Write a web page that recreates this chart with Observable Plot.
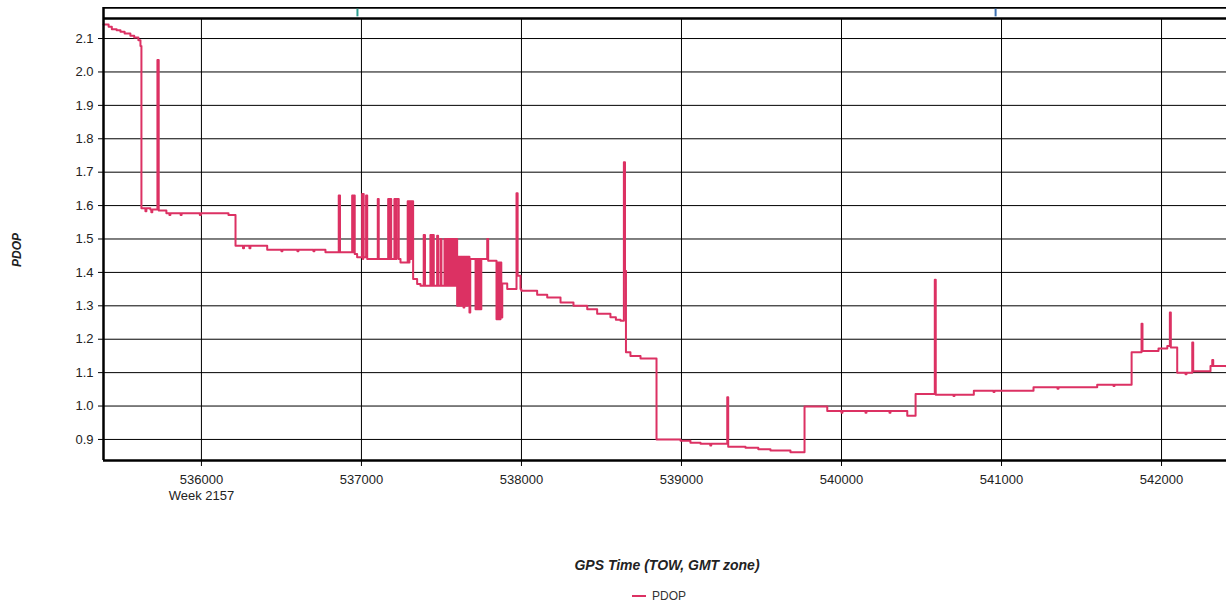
<!DOCTYPE html>
<html>
<head>
<meta charset="utf-8">
<script src="https://cdn.jsdelivr.net/npm/d3@7"></script>
<script src="https://cdn.jsdelivr.net/npm/@observablehq/plot@0.6"></script>
<style>
  html, body { margin: 0; padding: 0; background: #fff; }
  #wrap { position: relative; width: 1226px; height: 608px; overflow: hidden; background: #fff;
          font-family: "Liberation Sans", Arial, sans-serif; }
  #chart { position: absolute; left: 0; top: 0; }
  #strip { position: absolute; left: 0; top: 7px; }
  #ylab { position: absolute; left: 17px; top: 250px; transform: translate(-50%, -50%) rotate(-90deg);
          font-weight: bold; font-style: italic; font-size: 12px; color: #222; white-space: nowrap; }
  #xlab { position: absolute; left: 667px; top: 565px; transform: translate(-50%, -50%);
          font-weight: bold; font-style: italic; font-size: 14px; color: #222; white-space: nowrap; }
  #legend { position: absolute; left: 632px; top: 589px; font-size: 12px; color: #333; display: flex; align-items: center; }
  #legend .sw { width: 14px; height: 2px; background: #dc3163; margin-right: 6px; }
</style>
</head>
<body>
<div id="wrap">
  <div id="chart"></div>
  <div id="strip"></div>
  <div id="ylab">PDOP</div>
  <div id="xlab">GPS Time (TOW, GMT zone)</div>
  <div id="legend"><div class="sw"></div><span>PDOP</span></div>
</div>
<script>
// GPS time of week (s) and PDOP (step series)
const tow = [
  535388, 535420, 535440, 535470, 535494, 535520, 535556, 535580, 535606, 535619,
  535625, 535650, 535656, 535681, 535687, 535693, 535725, 535733, 535781, 535800,
  535806, 535870, 535876, 535990, 535996, 536169, 536213, 536260, 536266, 536300,
  536306, 536411, 536500, 536506, 536600, 536606, 536700, 536706, 536775, 536858,
  536866, 536942, 536947, 536952, 536958, 536973, 537004, 537009, 537011, 537014,
  537029, 537036, 537102, 537108, 537167, 537175, 537180, 537186, 537206, 537214,
  537220, 537233, 537244, 537289, 537296, 537300, 537308, 537312, 537323, 537348,
  537369, 537389, 537397, 537431, 537440, 537445, 537452, 537473, 537479, 537494,
  537500, 537519, 537525, 537536, 537541,
  537546, 537551, 537556, 537561, 537566, 537571, 537576, 537581, 537586, 537591, 537596,
  537598, 537603, 537608, 537613, 537618, 537623, 537628, 537633, 537638, 537643, 537648,
  537653, 537658, 537663, 537675, 537680,
  537713, 537718, 537723, 537728, 537733, 537738, 537744, 537749, 537786, 537792,
  537844, 537849, 537854, 537859, 537864, 537869, 537874, 537880, 537911, 537969,
  537976, 537994, 537999, 538098, 538161, 538244, 538325, 538411, 538473, 538556,
  538590, 538619, 538640, 538647, 538653, 538681, 538744, 538844, 538994, 539056,
  539119, 539180, 539186, 539286, 539292, 539400, 539480, 539556, 539681, 539769,
  539911, 540000, 540006, 540150, 540156, 540300, 540306, 540411, 540463, 540583,
  540589, 540700, 540706, 540827, 540950, 540956, 541200, 541350, 541356, 541598,
  541700, 541706, 541813, 541875, 541881, 541981, 542036, 542052, 542058, 542098,
  542150, 542156, 542192, 542198, 542306, 542317, 542323, 542406
];
const pdop = [
  2.142, 2.135, 2.128, 2.125, 2.120, 2.115, 2.108, 2.103, 2.095, 2.078,
  1.592, 1.583, 1.592, 1.588, 1.580, 1.588, 2.036, 1.585, 1.577, 1.572,
  1.577, 1.572, 1.577, 1.572, 1.577, 1.572, 1.480, 1.472, 1.480, 1.472,
  1.480, 1.468, 1.463, 1.468, 1.463, 1.468, 1.463, 1.468, 1.460, 1.630,
  1.460, 1.630, 1.460, 1.630, 1.455, 1.445, 1.635, 1.440, 1.635, 1.445,
  1.630, 1.440, 1.620, 1.440, 1.620, 1.440, 1.620, 1.440, 1.620, 1.440,
  1.620, 1.440, 1.430, 1.613, 1.430, 1.613, 1.440, 1.613, 1.380, 1.365,
  1.360, 1.512, 1.360, 1.512, 1.360, 1.512, 1.360, 1.510, 1.360, 1.500,
  1.360, 1.500, 1.360, 1.500, 1.360,
  1.500, 1.360, 1.500, 1.360, 1.500, 1.360, 1.500, 1.360, 1.500, 1.360, 1.500,
  1.300, 1.447, 1.300, 1.447, 1.300, 1.447, 1.300, 1.447, 1.295, 1.447, 1.300,
  1.447, 1.300, 1.447, 1.280, 1.440,
  1.290, 1.440, 1.290, 1.440, 1.290, 1.440, 1.290, 1.440, 1.500, 1.435,
  1.260, 1.430, 1.260, 1.430, 1.260, 1.430, 1.265, 1.367, 1.350, 1.637,
  1.390, 1.350, 1.345, 1.333, 1.325, 1.310, 1.300, 1.290, 1.276, 1.266,
  1.258, 1.255, 1.730, 1.405, 1.161, 1.150, 1.142, 0.900, 0.896, 0.890,
  0.887, 0.882, 0.887, 1.026, 0.878, 0.875, 0.871, 0.867, 0.862, 0.999,
  0.985, 0.980, 0.985, 0.980, 0.985, 0.980, 0.985, 0.971, 1.036, 1.378,
  1.034, 1.030, 1.034, 1.046, 1.042, 1.046, 1.056, 1.052, 1.056, 1.064,
  1.060, 1.064, 1.161, 1.246, 1.165, 1.172, 1.180, 1.280, 1.175, 1.100,
  1.095, 1.100, 1.190, 1.104, 1.120, 1.138, 1.120, 1.118
];

const xTicks = [536000, 537000, 538000, 539000, 540000, 541000, 542000];
const yTicks = [0.9, 1.0, 1.1, 1.2, 1.3, 1.4, 1.5, 1.6, 1.7, 1.8, 1.9, 2.0, 2.1];
const weekLabel = "Week 2157";
const weekTick = 536000;
const xDomain = [535388, 542406];
const yDomain = [0.837, 2.16];
// event markers in the top strip
const markerTimes = [536975, 540963];
const markerColors = ["#2a9d8f", "#3b6fb0"];

const data = tow.map((t, i) => ({t, v: pdop[i]}));
const lineColor = "#dc3163";

const chart = Plot.plot({
  width: 1226,
  height: 520,
  marginTop: 18,
  marginLeft: 103,
  marginRight: 0,
  marginBottom: 60,
  style: {fontFamily: "'Liberation Sans', Arial, sans-serif", fontSize: "13px", color: "#222", background: "#fff", overflow: "visible"},
  x: {domain: xDomain},
  y: {domain: yDomain},
  marks: [
    Plot.gridX(xTicks, {stroke: "#000", strokeOpacity: 1, strokeWidth: 1}),
    Plot.gridY(yTicks, {stroke: "#000", strokeOpacity: 1, strokeWidth: 1}),
    Plot.axisY(yTicks, {tickSize: 5, tickPadding: 5, tickFormat: d3.format(".1f"), label: null, stroke: "#000"}),
    Plot.axisX(xTicks, {tickSize: 6, tickPadding: 5, label: null, stroke: "#000", lineHeight: 1.3,
      tickFormat: d => d === weekTick ? `${d}\n${weekLabel}` : `${d}`}),
    Plot.line(data, {x: "t", y: "v", curve: "step-after", stroke: lineColor, strokeWidth: 2}),
    Plot.ruleX([xDomain[0]], {stroke: "#000", strokeWidth: 2.5}),
    Plot.ruleY([yDomain[0]], {stroke: "#000", strokeWidth: 2.5}),
    Plot.ruleY([yDomain[1]], {stroke: "#000", strokeWidth: 2.5})
  ]
});
document.getElementById("chart").appendChild(chart);

const strip = Plot.plot({
  width: 1226,
  height: 11,
  marginTop: 0, marginBottom: 0, marginLeft: 103, marginRight: 0,
  x: {domain: xDomain, axis: null},
  y: {domain: [0, 1], axis: null},
  style: {background: "transparent"},
  marks: [
    Plot.ruleY([1], {stroke: "#000", strokeWidth: 2.5}),
    Plot.ruleX([xDomain[0]], {stroke: "#000", strokeWidth: 2.5}),
    Plot.ruleX(markerTimes, {x: d => d, y1: 0.15, y2: 0.85, stroke: (d, i) => markerColors[i], strokeWidth: 2})
  ]
});
document.getElementById("strip").appendChild(strip);
</script>
</body>
</html>
